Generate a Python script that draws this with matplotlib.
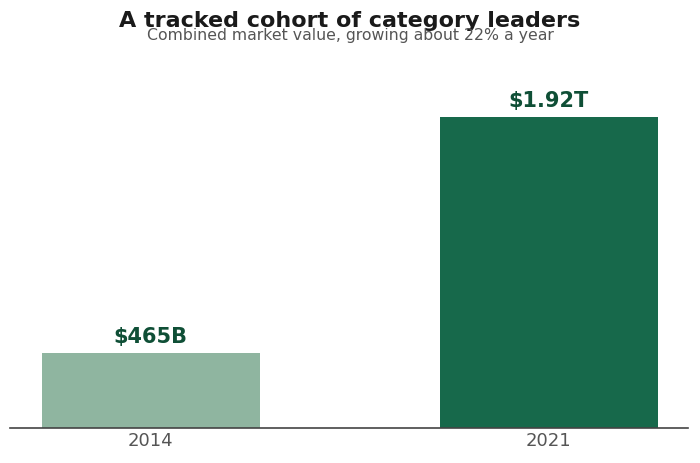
import matplotlib.pyplot as plt

years = ['2014', '2021']
values = [465, 1920]  # billions USD
labels = ['$465B', '$1.92T']
colors = ['#8fb5a0', '#17694b']

fig = plt.figure(figsize=(7, 4.63), dpi=100)
ax = fig.add_axes([0.014, 0.0756, 0.969, 0.807])

x = range(len(years))
ax.bar(x, values, width=0.548, color=colors)

for xi, v, lab in zip(x, values, labels):
    ax.text(xi, v + 35, lab, ha='center', va='bottom',
            fontsize=15, fontweight='bold', color='#0f4f36')

ax.set_xlim(-0.354, 1.35)
ax.set_ylim(0, 1920 * 1.2)
ax.set_xticks(list(x))
ax.set_xticklabels(years, fontsize=13, color='#555555')
ax.tick_params(axis='x', length=0, pad=3)
ax.set_yticks([])
for s in ['top', 'right', 'left']:
    ax.spines[s].set_visible(False)
ax.spines['bottom'].set_color('#444444')
ax.spines['bottom'].set_linewidth(1.2)

fig.text(0.5, 0.955, 'A tracked cohort of category leaders', ha='center', va='center',
         fontsize=16, fontweight='bold', color='#1a1a1a')
fig.text(0.5, 0.923, 'Combined market value, growing about 22% a year', ha='center', va='center',
         fontsize=11.3, color='#555555')

plt.savefig('out.png')
